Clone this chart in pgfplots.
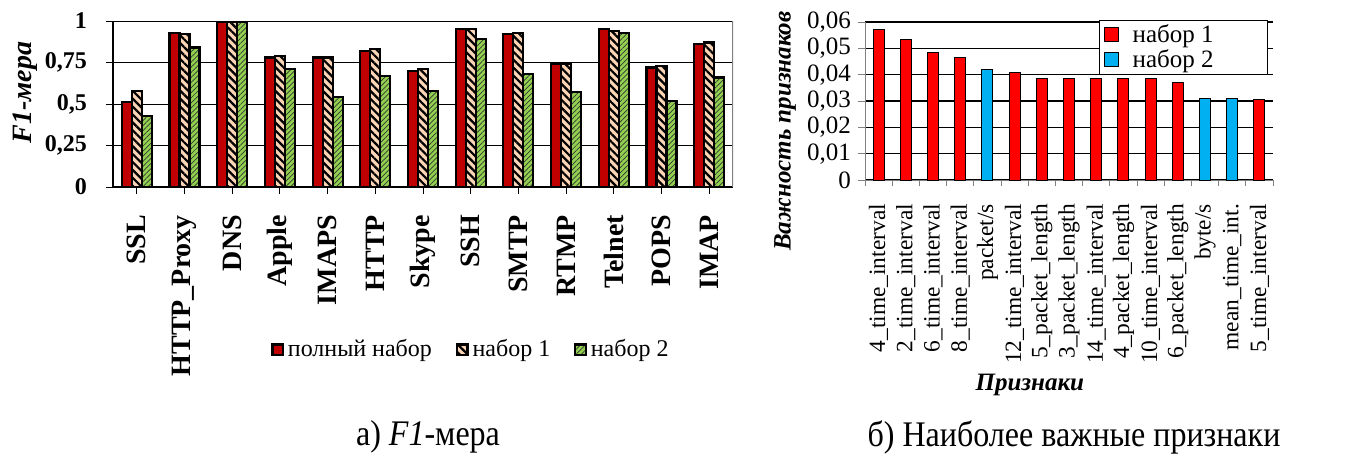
\documentclass[border=0pt]{standalone}
\usepackage{fontspec}
\setmainfont{Liberation Serif}
\newfontfamily\capfont[FakeStretch=0.89]{Liberation Serif}
\usepackage{pgfplots}
\pgfplotsset{compat=1.18}
\usetikzlibrary{patterns.meta}
\definecolor{dred}{HTML}{C00000}
\definecolor{peach}{HTML}{FBD5B5}
\definecolor{lgreen}{HTML}{92D050}
\definecolor{bred}{HTML}{FF0000}
\definecolor{bblue}{HTML}{00B0F0}
\begin{document}
\begin{tikzpicture}
\useasboundingbox (0,0) rectangle (679.5pt,228.5pt);
% ---------------- left chart ----------------
\begin{axis}[
  at={(56.5pt,135pt)}, anchor=south west,
  scale only axis, width=310pt, height=83pt,
  ybar=0pt, bar width=5pt,
  xmin=-0.5, xmax=12.5, ymin=0, ymax=1,
  xtick={0,...,12},
  xticklabels={SSL,HTTP\_Proxy,DNS,Apple,IMAPS,HTTP,Skype,SSH,SMTP,RTMP,Telnet,POPS,IMAP},
  xticklabel style={rotate=90, anchor=east, font=\fontsize{14}{14}\selectfont\bfseries},
  xticklabel shift=7pt,
  ytick={0,0.25,0.5,0.75,1},
  yticklabels={0,{0,25},{0,5},{0,75},1},
  yticklabel style={font=\fontsize{12}{12}\selectfont\bfseries},
  yticklabel shift=6pt,
  tick pos=left, tick align=outside, major tick length=3.5pt,
  tick style={black, line width=0.5pt},
  axis x line*=bottom, axis y line*=left,
  ymajorgrids, major grid style={black, line width=0.5pt},
  axis line style={black, line width=0.6pt},
  ylabel={\bfseries\itshape F1-мера},
  ylabel style={at={(axis description cs:-0.142,0.57)}, anchor=center, font=\fontsize{14}{14}\selectfont},
  legend style={at={(axis description cs:0.579,-0.98)}, anchor=center, draw=none, fill=none,
    font=\fontsize{12}{14}\selectfont, /tikz/every even column/.append style={column sep=10pt}},
  legend columns=3,
  legend image code/.code={\draw[#1] (0pt,-2.6pt) rectangle (5.2pt,2.6pt);},
]
\addplot[draw=black, line width=1.1pt, fill=dred] coordinates {
 (0,0.51)(1,0.93)(2,0.995)(3,0.78)(4,0.78)(5,0.82)(6,0.70)(7,0.95)(8,0.92)(9,0.74)(10,0.95)(11,0.72)(12,0.86)};
\addplot[draw=black, line width=1.1pt, fill=peach,
  postaction={pattern={Lines[angle=-45,distance=2.8pt,line width=1.1pt]}, pattern color=black}] coordinates {
 (0,0.58)(1,0.92)(2,0.995)(3,0.79)(4,0.78)(5,0.83)(6,0.71)(7,0.95)(8,0.93)(9,0.74)(10,0.94)(11,0.73)(12,0.87)};
\addplot[draw=black, line width=1.1pt, fill=lgreen,
  postaction={pattern={Lines[angle=45,distance=1.8pt,line width=0.35pt]}, pattern color=black!80}] coordinates {
 (0,0.43)(1,0.84)(2,0.995)(3,0.71)(4,0.54)(5,0.67)(6,0.58)(7,0.89)(8,0.68)(9,0.57)(10,0.93)(11,0.52)(12,0.66)};
\legend{полный набор, набор 1, набор 2}
\draw[gray, line width=0.6pt] (rel axis cs:1,0) -- (rel axis cs:1,1);
\end{axis}
% ---------------- right chart ----------------
\begin{axis}[
  at={(432.5pt,138.5pt)}, anchor=south west,
  scale only axis, width=204pt, height=79pt,
  ybar, bar width=5.5pt, bar shift=0pt,
  xmin=-0.5, xmax=14.5, ymin=0, ymax=0.06,
  scaled y ticks=false,
  xtick={0,...,14},
  xticklabels={4\_time\_interval,2\_time\_interval,6\_time\_interval,8\_time\_interval,packet/s,12\_time\_interval,5\_packet\_length,3\_packet\_length,14\_time\_interval,4\_packet\_length,10\_time\_interval,6\_packet\_length,byte/s,mean\_time\_int.,5\_time\_interval},
  xticklabel style={rotate=90, anchor=east, font=\fontsize{11.7}{12}\selectfont},
  xticklabel shift=5pt,
  major x tick style={draw=none},
  minor xtick={-0.5,0.5,...,14.5},
  minor tick length=3pt,
  minor x tick style={gray, line width=0.4pt},
  ytick={0,0.01,0.02,0.03,0.04,0.05,0.06},
  yticklabels={0,{0,01},{0,02},{0,03},{0,04},{0,05},{0,06}},
  yticklabel style={font=\fontsize{12.5}{12.5}\selectfont},
  major y tick style={gray, line width=0.4pt},
  tick pos=left, tick align=outside, major tick length=3.5pt,
  axis x line*=bottom, axis y line*=left,
  axis line style={gray, line width=0.5pt},
  ymajorgrids, major grid style={black, line width=0.75pt},
  ylabel={\bfseries\itshape Важность признаков},
  ylabel style={at={(axis description cs:-0.196,0.31)}, anchor=center, font=\fontsize{12.5}{12.5}\selectfont},
  xlabel={\bfseries\itshape Признаки},
  xlabel style={at={(axis description cs:0.404,-1.30)}, anchor=center, font=\fontsize{12.5}{12.5}\selectfont},
  legend style={at={(axis description cs:0.988,1.013)}, anchor=north east, draw=black, fill=white,
    line width=0.5pt, font=\fontsize{12.5}{12.5}\selectfont, row sep=-2pt, inner xsep=2pt, inner ysep=0pt,
    /tikz/every odd column/.append style={column sep=5pt}},
  legend cell align=left,
  legend image code/.code={\draw[#1, line width=0.5pt] (0pt,-3.5pt) rectangle (7pt,3.5pt);},
]
\addplot[draw=black, line width=0.5pt, fill=bred] coordinates {
 (0,0.0573)(1,0.0535)(2,0.0486)(3,0.0465)(5,0.0410)(6,0.0387)(7,0.0387)(8,0.0387)(9,0.0387)(10,0.0384)(11,0.0370)(14,0.0304)};
\addplot[draw=black, line width=0.5pt, fill=bblue] coordinates {
 (4,0.0418)(12,0.0308)(13,0.0308)};
\addlegendentry{набор 1\hspace*{23pt}}
\addlegendentry{набор 2\hspace*{23pt}}
\end{axis}
\node[font=\capfont\fontsize{18}{18}\selectfont] at (214pt,10pt) {а) \textit{F1}-мера};
\node[font=\capfont\fontsize{18}{18}\selectfont] at (537pt,10pt) {б) Наиболее важные признаки};
\end{tikzpicture}
\end{document}
